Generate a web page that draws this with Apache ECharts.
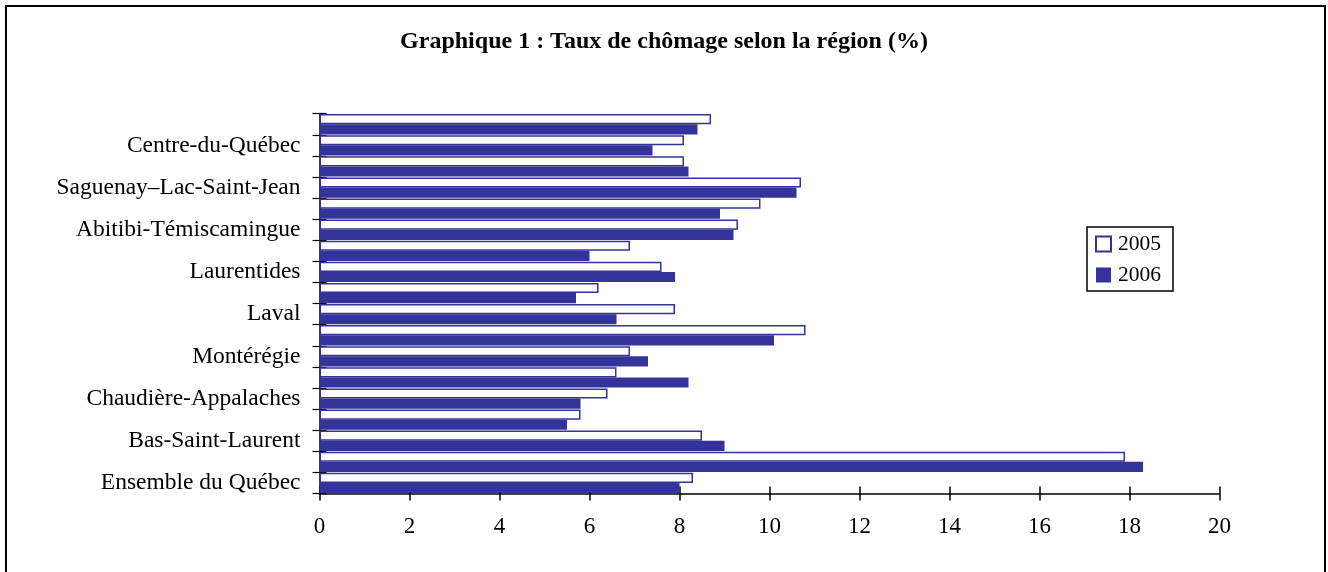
<!DOCTYPE html>
<html>
<head>
<meta charset="utf-8">
<script src="https://cdn.jsdelivr.net/npm/echarts@6/dist/echarts.min.js"></script>
<style>
html,body{margin:0;padding:0;background:#fff;}
#chart{width:1328px;height:572px;}
</style>
</head>
<body>
<div id="chart"></div>
<script>
// Categories listed from bottom to top
const categories = [
  "Ensemble du Québec",
  "Gaspésie–Îles-de-la-Madeleine",
  "Bas-Saint-Laurent",
  "Capitale-Nationale",
  "Chaudière-Appalaches",
  "Estrie",
  "Montérégie",
  "Montréal",
  "Laval",
  "Lanaudière",
  "Laurentides",
  "Outaouais",
  "Abitibi-Témiscamingue",
  "Mauricie",
  "Saguenay–Lac-Saint-Jean",
  "Côte-Nord",
  "Centre-du-Québec",
  "Nord-du-Québec"
];
const values2005 = [8.3, 17.9, 8.5, 5.8, 6.4, 6.6, 6.9, 10.8, 7.9, 6.2, 7.6, 6.9, 9.3, 9.8, 10.7, 8.1, 8.1, 8.7];
const values2006 = [8.0, 18.3, 9.0, 5.5, 5.8, 8.2, 7.3, 10.1, 6.6, 5.7, 7.9, 6.0, 9.2, 8.9, 10.6, 8.2, 7.4, 8.4];
const xTicks = [0, 2, 4, 6, 8, 10, 12, 14, 16, 18, 20];
const seriesNames = ["2005", "2006"];
const chartTitle = "Graphique 1 : Taux de chômage selon la région (%)";

const BLUE = "#333399";
const FONT = "Liberation Serif";

const chart = echarts.init(document.getElementById("chart"));
const grid = { left: 319.5, right: 108.5, top: 113.7, bottom: 78.5, containLabel: false };

chart.setOption({
  animation: false,
  backgroundColor: "#fff",
  title: {
    text: chartTitle,
    left: "center",
    top: 25,
    textStyle: { fontFamily: FONT, fontSize: 24, fontWeight: "bold", color: "#000" }
  },
  graphic: [{
    type: "rect",
    shape: { x: 6, y: 6, width: 1319, height: 600 },
    style: { fill: "none", stroke: "#000", lineWidth: 2 },
    silent: true
  }],
  legend: {
    data: seriesNames,
    orient: "vertical",
    left: 1087,
    top: 227,
    padding: [6, 12, 5, 8],
    itemGap: 9,
    itemWidth: 15,
    itemHeight: 15,
    icon: "rect",
    borderColor: "#000",
    borderWidth: 1.5,
    textStyle: { fontFamily: FONT, fontSize: 21.5, color: "#000", padding: [0, 0, 0, 2] }
  },
  grid: grid,
  xAxis: [{
    type: "value",
    min: xTicks[0],
    max: xTicks[xTicks.length - 1],
    interval: 2,
    axisLine: { show: true, lineStyle: { color: "#000", width: 1.5 } },
    axisTick: { show: true, length: 7, lineStyle: { color: "#000", width: 1.5 } },
    axisLabel: { fontFamily: FONT, fontSize: 23, color: "#000", margin: 22 },
    splitLine: { show: false }
  }, {
    type: "value",
    position: "bottom",
    min: xTicks[0],
    max: xTicks[xTicks.length - 1],
    interval: 2,
    axisLine: { show: false },
    axisTick: { show: true, inside: true, length: 7, lineStyle: { color: "#000", width: 1.5 } },
    axisLabel: { show: false },
    splitLine: { show: false }
  }],
  yAxis: [{
    type: "category",
    data: categories,
    axisLine: { show: true, lineStyle: { color: "#000", width: 1.5 } },
    axisTick: { show: true, length: 7, interval: 0, lineStyle: { color: "#000", width: 1.2 } },
    axisLabel: { interval: 1, fontFamily: FONT, fontSize: 23.5, color: "#000", margin: 19 }
  }, {
    type: "category",
    position: "left",
    data: categories,
    axisLine: { show: false },
    axisTick: { show: true, inside: true, length: 7, interval: 0, lineStyle: { color: "#000", width: 1.2 } },
    axisLabel: { show: false }
  }],
  series: [{
    name: seriesNames[0],
    type: "bar",
    xAxisIndex: 0,
    yAxisIndex: 0,
    data: values2005,
    barGap: "0%",
    barCategoryGap: "4%",
    itemStyle: { color: "#fff", borderColor: BLUE, borderWidth: 1.5 }
  }, {
    name: seriesNames[1],
    type: "bar",
    xAxisIndex: 0,
    yAxisIndex: 0,
    data: values2006,
    barGap: "0%",
    barCategoryGap: "4%",
    itemStyle: { color: BLUE }
  }]
});
</script>
</body>
</html>
